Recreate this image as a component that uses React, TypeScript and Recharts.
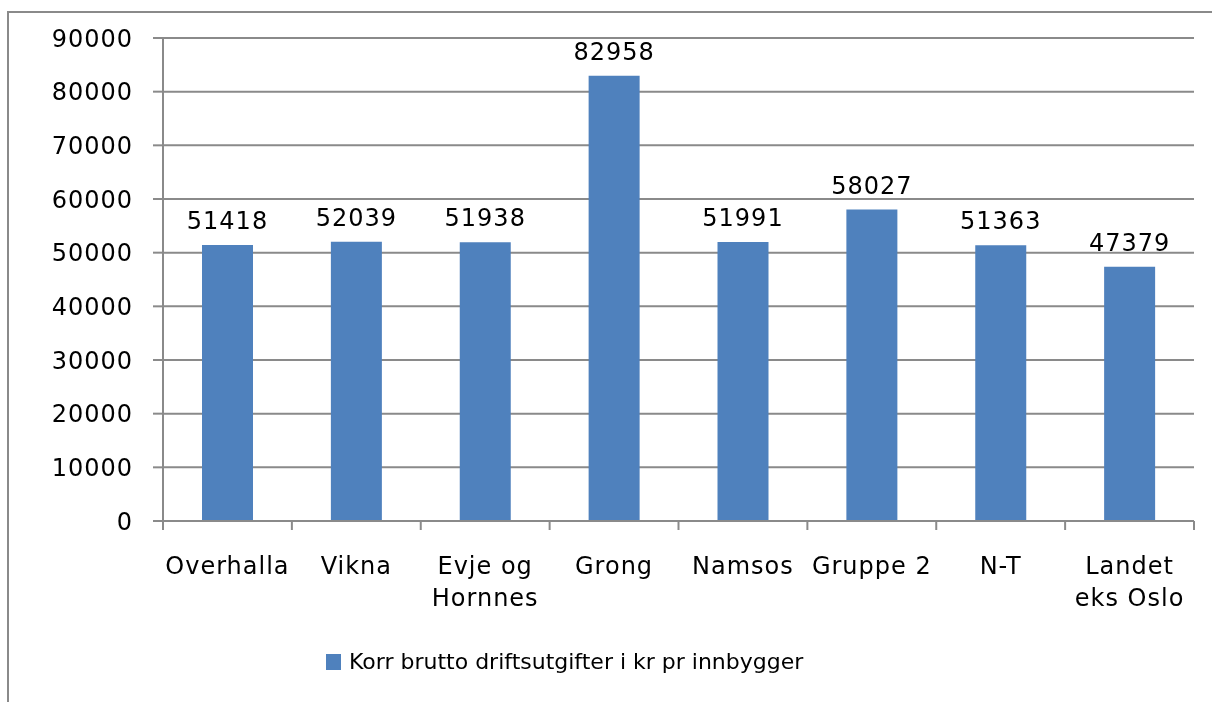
import React from 'react';
import { BarChart, Bar, XAxis, YAxis, CartesianGrid, LabelList, Legend } from 'recharts';

const categories = ['Overhalla', 'Vikna', 'Evje og\nHornnes', 'Grong', 'Namsos', 'Gruppe 2', 'N-T', 'Landet\neks Oslo'];
const values = [51418, 52039, 51938, 82958, 51991, 58027, 51363, 47379];
const yTicks = [0, 10000, 20000, 30000, 40000, 50000, 60000, 70000, 80000, 90000];
const seriesName = 'Korr brutto driftsutgifter  i kr pr innbygger';

const data = categories.map((c, i) => ({ name: c, value: values[i] }));

const FONT = '"DejaVu Sans", sans-serif';
const FS = 24;
const LS = 1;
const GRAY = '#8a8a8a';
const BLUE = '#4F81BD';

const CategoryTick = (props: any) => {
  const { x, y, payload, index } = props;
  const half = payload && typeof payload.offset === 'number' && payload.offset > 0 ? payload.offset : 64.4;
  const lines = String(payload.value).split('\n');
  return (
    <g>
      <line x1={x - half} y1={y} x2={x - half} y2={y + 9} stroke={GRAY} strokeWidth={2} />
      {index === categories.length - 1 && (
        <line x1={x + half} y1={y} x2={x + half} y2={y + 9} stroke={GRAY} strokeWidth={2} />
      )}
      <text x={x} y={y + 53} textAnchor="middle" fill="#000" fontFamily={FONT} fontSize={FS} letterSpacing={LS}>
        {lines.map((l, i) => (
          <tspan key={i} x={x} dy={i === 0 ? 0 : 32}>{l}</tspan>
        ))}
      </text>
    </g>
  );
};

const ValueTick = (props: any) => {
  const { x, y, payload } = props;
  return (
    <text x={x} y={y} dy={8.5} textAnchor="end" fill="#000" fontFamily={FONT} fontSize={FS} letterSpacing={LS}>
      {payload.value}
    </text>
  );
};

const LegendContent = () => (
  <div style={{ display: 'flex', alignItems: 'center', fontFamily: FONT, fontSize: 22, color: '#000', whiteSpace: 'nowrap' }}>
    <span style={{ display: 'inline-block', width: 15, height: 16, background: BLUE, marginRight: 8 }} />
    <span>{seriesName}</span>
  </div>
);

export default function App() {
  return (
    <div style={{ position: 'relative', width: 1196, height: 686 }}>
      <div style={{ position: 'fixed', top: 11, left: 7, right: 0, bottom: 0, borderTop: `2px solid ${GRAY}`, borderLeft: `2px solid ${GRAY}` }} />
      <BarChart
        width={1196}
        height={686}
        data={data}
        margin={{ top: 30, right: 10, left: 0, bottom: 5 }}
        barSize={51}
      >
        <CartesianGrid vertical={false} stroke={GRAY} strokeWidth={2} />
        <XAxis
          dataKey="name"
          height={128}
          interval={0}
          tickSize={0}
          tickMargin={0}
          tickLine={false}
          axisLine={{ stroke: GRAY, strokeWidth: 2 }}
          tick={<CategoryTick />}
        />
        <YAxis
          width={155}
          domain={[0, 90000]}
          ticks={yTicks}
          interval={0}
          tickSize={10}
          tickMargin={20}
          tickLine={{ stroke: GRAY, strokeWidth: 2 }}
          axisLine={{ stroke: GRAY, strokeWidth: 2 }}
          tick={<ValueTick />}
        />
        <Legend
          verticalAlign="bottom"
          align="left"
          height={40}
          content={<LegendContent />}
          wrapperStyle={{ left: 318 }}
        />
        <Bar dataKey="value" name={seriesName} fill={BLUE} isAnimationActive={false}>
          <LabelList
            dataKey="value"
            position="top"
            offset={16}
            fill="#000"
            style={{ fontFamily: FONT, fontSize: FS, letterSpacing: LS }}
          />
        </Bar>
      </BarChart>
    </div>
  );
}
